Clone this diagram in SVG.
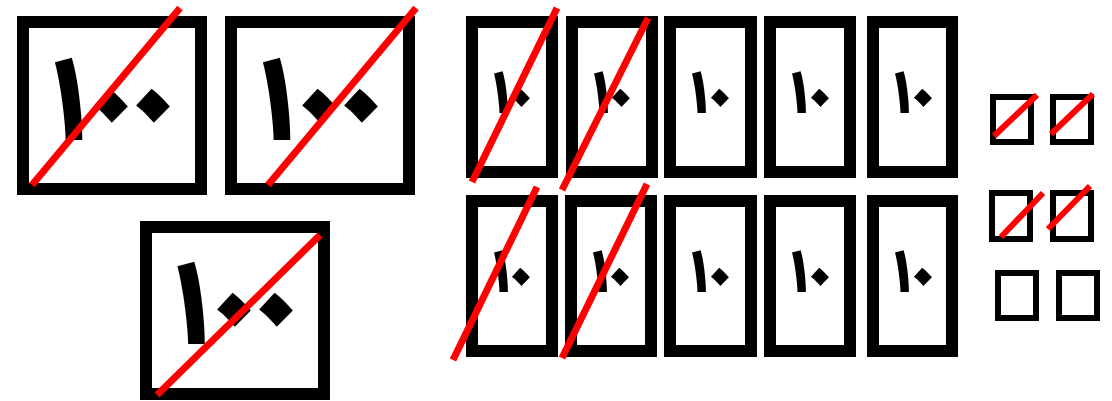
<svg xmlns="http://www.w3.org/2000/svg" width="1112" height="401" viewBox="0 0 1112 401">
<style>
.b{fill:#fff;stroke:#000;stroke-width:12}
.s{fill:#fff;stroke:#000;stroke-width:6}
.x{stroke:#f00;stroke-width:7;fill:none}
.xs{stroke:#f00;stroke-width:6;fill:none}
.h{font-family:"Noto Sans Arabic","DejaVu Sans",sans-serif;font-weight:bold;font-size:120px;text-anchor:middle;fill:#000}
.hz{font-size:150px}
.t{font-family:"Noto Sans Arabic","DejaVu Sans",sans-serif;font-weight:bold;font-size:61px;text-anchor:middle;fill:#000}
.tz{font-size:80px}
</style>
<rect width="1112" height="401" fill="#fff"/>
<g id="h1"><rect class="b" x="23" y="22" width="178" height="167"/><text class="h" y="139"><tspan x="68.5">١</tspan><tspan class="hz" x="111 153" y="151">٠٠</tspan></text><line class="x" x1="32" y1="185" x2="180" y2="8"/></g>
<g id="h2"><rect class="b" x="231" y="22" width="178" height="167"/><text class="h" y="139"><tspan x="276.5">١</tspan><tspan class="hz" x="319 361" y="151">٠٠</tspan></text><line class="x" x1="268" y1="185" x2="416" y2="8"/></g>
<g id="h3"><rect class="b" x="146" y="227" width="178" height="167"/><text class="h" y="343"><tspan x="191">١</tspan><tspan class="hz" x="234 276" y="355">٠٠</tspan></text><line class="x" x1="157" y1="395" x2="320" y2="235"/></g>
<g id="t1"><rect class="b" x="472" y="22" width="80" height="150"/><text class="t" y="113"><tspan x="501">١</tspan><tspan class="tz" x="521" y="122">٠</tspan></text><line class="x" x1="472" y1="182" x2="557" y2="8"/></g>
<g id="t2"><rect class="b" x="572" y="22" width="80" height="150"/><text class="t" y="113"><tspan x="601">١</tspan><tspan class="tz" x="621" y="122">٠</tspan></text><line class="x" x1="562" y1="190" x2="648" y2="18"/></g>
<g id="t3"><rect class="b" x="670" y="22" width="81" height="150"/><text class="t" y="113"><tspan x="699">١</tspan><tspan class="tz" x="720" y="122">٠</tspan></text></g>
<g id="t4"><rect class="b" x="770" y="22" width="80" height="150"/><text class="t" y="113"><tspan x="799">١</tspan><tspan class="tz" x="820" y="122">٠</tspan></text></g>
<g id="t5"><rect class="b" x="873" y="22" width="79" height="150"/><text class="t" y="113"><tspan x="902">١</tspan><tspan class="tz" x="923" y="122">٠</tspan></text></g>
<g id="t6"><rect class="b" x="472" y="201" width="80" height="150"/><text class="t" y="292"><tspan x="501">١</tspan><tspan class="tz" x="521" y="301">٠</tspan></text><line class="x" x1="453" y1="360" x2="537" y2="187"/></g>
<g id="t7"><rect class="b" x="571" y="201" width="80" height="150"/><text class="t" y="292"><tspan x="600">١</tspan><tspan class="tz" x="620" y="301">٠</tspan></text><line class="x" x1="562" y1="358" x2="647" y2="184"/></g>
<g id="t8"><rect class="b" x="670" y="201" width="81" height="150"/><text class="t" y="292"><tspan x="699">١</tspan><tspan class="tz" x="720" y="301">٠</tspan></text></g>
<g id="t9"><rect class="b" x="770" y="201" width="80" height="150"/><text class="t" y="292"><tspan x="799">١</tspan><tspan class="tz" x="820" y="301">٠</tspan></text></g>
<g id="t10"><rect class="b" x="873" y="201" width="79" height="150"/><text class="t" y="292"><tspan x="902">١</tspan><tspan class="tz" x="923" y="301">٠</tspan></text></g>
<g id="o1"><rect class="s" x="993" y="97" width="38" height="45"/><line class="xs" x1="994" y1="136" x2="1037" y2="95"/></g>
<g id="o2"><rect class="s" x="1053" y="97" width="38" height="45"/><line class="xs" x1="1051" y1="134" x2="1093" y2="94"/></g>
<g id="o3"><rect class="s" x="992" y="193" width="38" height="46"/><line class="xs" x1="1001" y1="237" x2="1043" y2="193"/></g>
<g id="o4"><rect class="s" x="1053" y="193" width="38" height="46"/><line class="xs" x1="1048" y1="229" x2="1090" y2="186"/></g>
<g id="o5"><rect class="s" x="998" y="273" width="38" height="45"/></g>
<g id="o6"><rect class="s" x="1059" y="273" width="38" height="45"/></g>
</svg>
